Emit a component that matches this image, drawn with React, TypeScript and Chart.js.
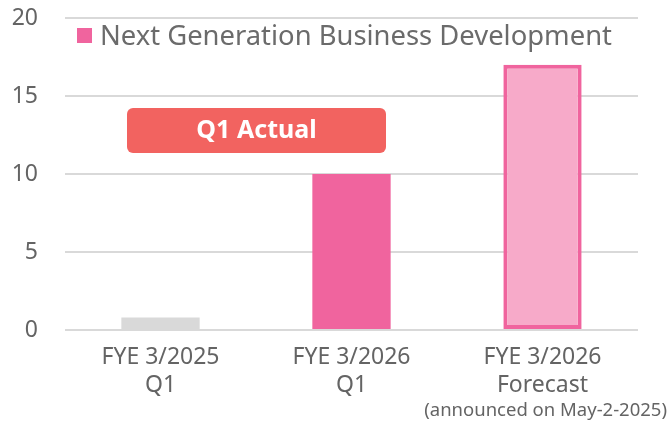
import React, { useEffect, useRef } from "react";
import { Chart, registerables } from "chart.js";

Chart.register(...registerables);

const categories: string[][] = [
  ["FYE 3/2025", "Q1"],
  ["FYE 3/2026", "Q1"],
  ["FYE 3/2026", "Forecast"],
];
const values: number[] = [0.8, 10, 17];
const seriesName = "Next Generation Business Development";
const yTicks: number[] = [0, 5, 10, 15, 20];
const badgeText = "Q1 Actual";
const noteText = "(announced on May-2-2025)";

const FONT = "'Noto Sans', 'DejaVu Sans', sans-serif";
const TEXT = "#646464";

const overlay = {
  id: "overlay",
  afterDraw(chart: any) {
    const ctx = chart.ctx as CanvasRenderingContext2D;
    ctx.save();
    // legend
    ctx.fillStyle = "#F0649E";
    ctx.fillRect(77, 28, 15, 15);
    ctx.fillStyle = "#6B6B6B";
    ctx.font = `27.4px ${FONT}`;
    ctx.textAlign = "left";
    ctx.textBaseline = "middle";
    ctx.fillText(seriesName, 100, 37);
    // badge
    ctx.fillStyle = "#F26360";
    ctx.beginPath();
    (ctx as any).roundRect(127, 108, 259, 45, 6);
    ctx.fill();
    ctx.fillStyle = "#FFFFFF";
    ctx.font = `bold 25px ${FONT}`;
    ctx.textAlign = "center";
    ctx.fillText(badgeText, 256.5, 131);
    // note
    ctx.fillStyle = TEXT;
    ctx.font = `18.5px ${FONT}`;
    ctx.textAlign = "right";
    ctx.fillText(noteText, 667, 411);
    ctx.restore();
  },
};

export default function App() {
  const ref = useRef<HTMLCanvasElement | null>(null);
  useEffect(() => {
    document.body.style.margin = "0";
    const chart = new Chart(ref.current as HTMLCanvasElement, {
      type: "bar",
      data: {
        labels: categories,
        datasets: [
          {
            label: seriesName,
            data: values,
            backgroundColor: ["#D9D9D9", "#F0649E", "#F7AAC9"],
            borderColor: ["#D9D9D9", "#F0649E", "#F0649E"],
            borderWidth: [0, 0, 4],
            borderSkipped: false,
            barPercentage: 0.41,
            categoryPercentage: 1,
          },
        ],
      },
      options: {
        animation: false,
        responsive: true,
        maintainAspectRatio: false,
        layout: { padding: { left: 0, top: 18, right: 31, bottom: 0 } },
        plugins: { legend: { display: false }, tooltip: { enabled: false } },
        scales: {
          x: {
            grid: { display: false, drawTicks: false },
            border: { display: false },
            ticks: {
              color: TEXT,
              font: { family: FONT, size: 23, lineHeight: 1.22 },
              padding: 13,
              maxRotation: 0,
            },
            afterFit: (s: any) => {
              s.height = 95;
              s.paddingLeft = 0;
              s.paddingRight = 0;
            },
          },
          y: {
            min: 0,
            max: 20,
            afterBuildTicks: (s: any) => {
              s.ticks = yTicks.map((v) => ({ value: v }));
            },
            grid: { color: "#D9D9D9", lineWidth: 2, drawTicks: false },
            border: { display: false },
            ticks: {
              color: TEXT,
              font: { family: FONT, size: 23 },
              padding: 27,
            },
            afterFit: (s: any) => {
              s.width = 65;
              s.paddingTop = 0;
              s.paddingBottom = 0;
            },
          },
        },
      },
      plugins: [overlay],
    } as any);
    return () => chart.destroy();
  }, []);
  return (
    <div style={{ width: 669, height: 425, position: "relative" }}>
      <canvas ref={ref} />
    </div>
  );
}
